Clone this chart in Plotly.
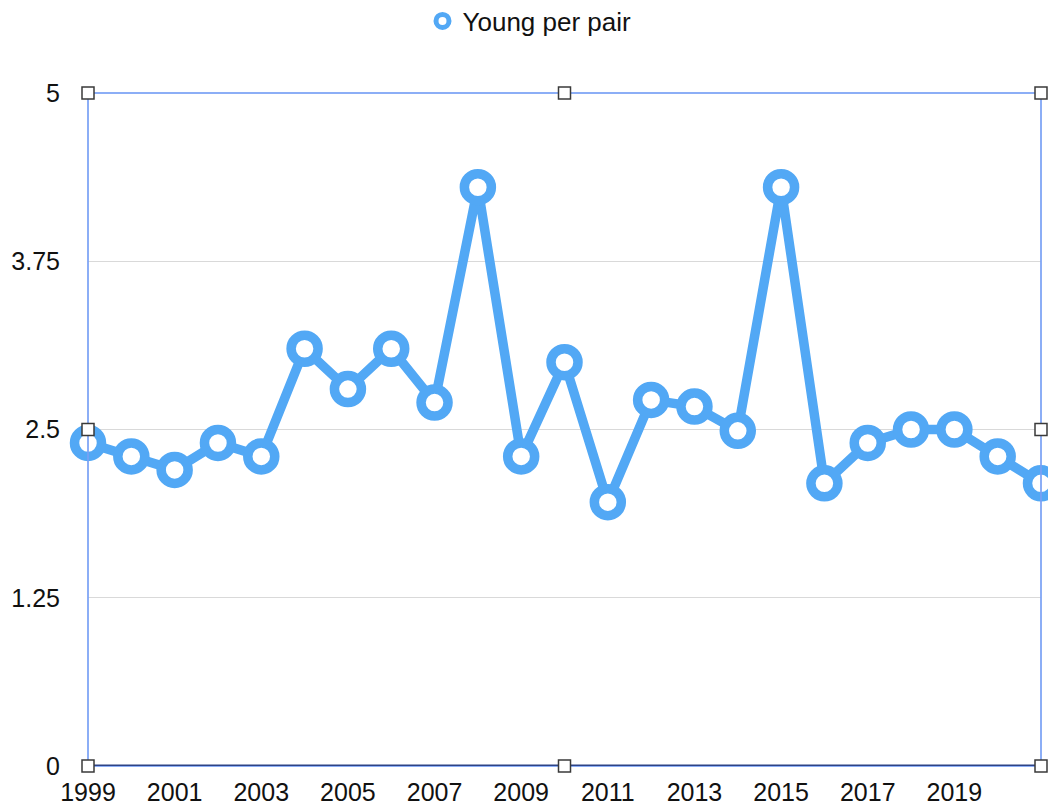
import plotly.graph_objects as go

years = list(range(1999, 2022))
young_per_pair = [2.4, 2.3, 2.2, 2.4, 2.3, 3.1, 2.8, 3.1, 2.7, 4.3, 2.3, 3.0,
                  1.96, 2.72, 2.67, 2.49, 4.3, 2.1, 2.4, 2.5, 2.5, 2.3, 2.1]
y_ticks = [0, 1.25, 2.5, 3.75, 5]
y_tick_text = ["0", "1.25", "2.5", "3.75", "5"]
x_ticks = list(range(1999, 2021, 2))

blue = "#52A8F5"
fig = go.Figure()
fig.add_trace(go.Scatter(
    x=years, y=young_per_pair, mode="lines+markers", showlegend=False,
    line=dict(color=blue, width=9.5),
    marker=dict(symbol="circle", size=27, color="white", line=dict(color=blue, width=9.5)),
    cliponaxis=False,
))
fig.add_trace(go.Scatter(
    x=[None], y=[None], mode="markers", name="Young per pair",
    marker=dict(symbol="circle", size=13, color="white", line=dict(color=blue, width=6)),
))

shapes = []
shapes.append(dict(type="rect", xref="paper", yref="paper", x0=0, x1=1, y0=0, y1=1,
                   line=dict(color="rgba(120,160,245,0.85)", width=2), layer="above"))
shapes.append(dict(type="line", xref="paper", yref="y", x0=0, x1=1, y0=0, y1=0,
                   line=dict(color="#2E4486", width=3), layer="above"))
for px in (0, 0.5, 1):
    for py in (0, 0.5, 1):
        if px == 0.5 and py == 0.5:
            continue
        shapes.append(dict(type="rect", xref="paper", yref="paper",
                           xsizemode="pixel", ysizemode="pixel",
                           xanchor=px, yanchor=py, x0=-6, x1=6, y0=-6, y1=6,
                           fillcolor="white", line=dict(color="#3a3a3a", width=1.5),
                           layer="above"))

# page body has an 8px margin: compensate so the plot lands where the reference has it
fig.update_layout(
    width=1048, height=802,
    margin=dict(l=80, r=15, t=85, b=44, autoexpand=False),
    plot_bgcolor="white", paper_bgcolor="white",
    font=dict(family="Liberation Sans, Arial, sans-serif", size=25, color="#111111"),
    showlegend=True,
    legend=dict(orientation="h", x=0.5 - 35 / 953, xanchor="center", y=1.0 + (93 - 21) / 673,
                yref="paper", yanchor="middle", font=dict(size=26), itemwidth=30),
    xaxis=dict(range=[1999, 2021], tickvals=x_ticks, showgrid=False, zeroline=False,
               showline=False, ticks="", ticklabelstandoff=9, tickfont=dict(size=25),
               automargin=False),
    yaxis=dict(range=[0, 5], tickvals=y_ticks, ticktext=y_tick_text, showgrid=True,
               gridcolor="#D9D9D9", gridwidth=1, zeroline=False, showline=False,
               ticks="", ticklabelstandoff=27, tickfont=dict(size=25), automargin=False),
    shapes=shapes,
)
fig.write_html("out.html")
